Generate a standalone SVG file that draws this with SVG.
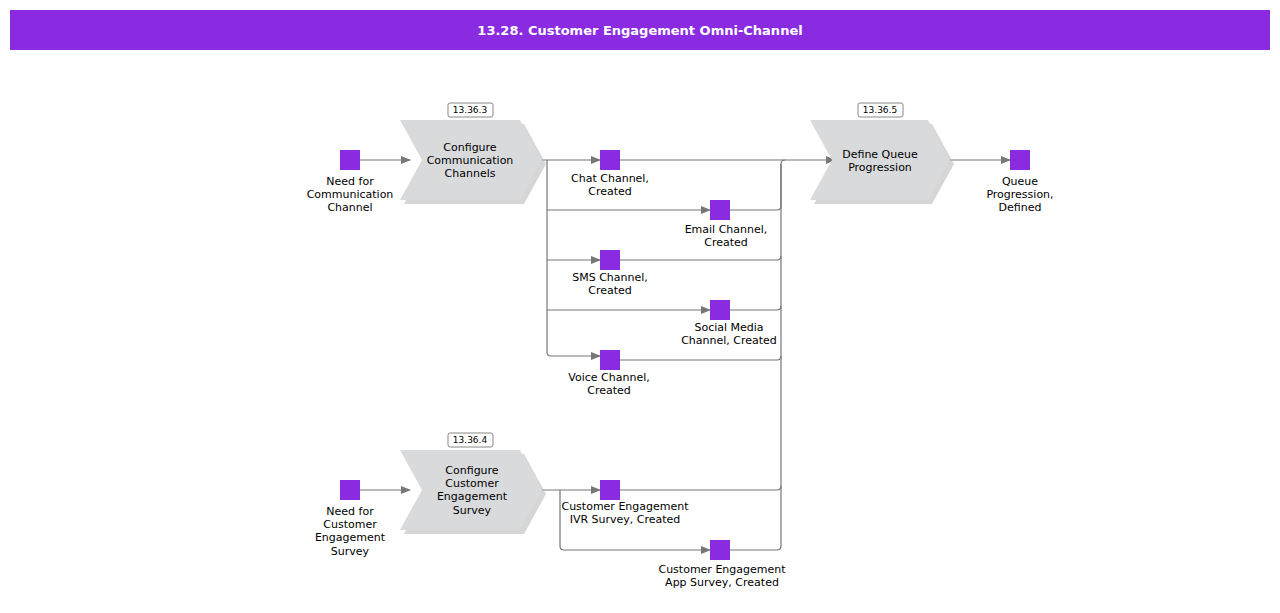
<svg xmlns="http://www.w3.org/2000/svg" width="1280" height="613" viewBox="0 0 1280 613">
<defs>
<style>
text{font-family:"DejaVu Sans",sans-serif;font-size:11px;fill:#000;text-anchor:middle}
.ev{fill:#8a2be2}
.sh{fill:#bbb;opacity:.6}
.ch{fill:#d9dadc}
.c{fill:none;stroke:#777;stroke-width:1.2}
.b{fill:#fff;stroke:#888;stroke-width:1}
.bt{font-size:9px}
</style>
<marker id="a" markerWidth="10" markerHeight="8" refX="9" refY="4" orient="auto" markerUnits="userSpaceOnUse"><path d="M0,0L10,4L0,8z" fill="#777"/></marker>
</defs>
<rect width="1280" height="613" fill="#fff"/>
<rect x="10" y="10" width="1260" height="40" fill="#8a2be2"/>
<text x="640" y="35" style="fill:#fff;font-weight:bold;font-size:13px">13.28. Customer Engagement Omni-Channel</text>
<g id="connectors">
<path class="c" d="M360,160H410" marker-end="url(#a)"/>
<path class="c" d="M542,160H600" marker-end="url(#a)"/>
<path class="c" d="M547,160V352q0,4 4,4H600" marker-end="url(#a)"/>
<path class="c" d="M547,210H710" marker-end="url(#a)"/>
<path class="c" d="M547,260H600" marker-end="url(#a)"/>
<path class="c" d="M547,310H710" marker-end="url(#a)"/>
<path class="c" d="M620,160H835" marker-end="url(#a)"/>
<path class="c" d="M730,210H777q4,0 4,-4V164q0,-4 4,-4"/>
<path class="c" d="M620,260H777q4,0 4,-4"/>
<path class="c" d="M730,310H777q4,0 4,-4"/>
<path class="c" d="M620,360H777q4,0 4,-4"/>
<path class="c" d="M620,490H777q4,0 4,-4"/>
<path class="c" d="M730,550H777q4,0 4,-4V164"/>
<path class="c" d="M360,490H410" marker-end="url(#a)"/>
<path class="c" d="M542,490H600" marker-end="url(#a)"/>
<path class="c" d="M560,490V546q0,4 4,4H710" marker-end="url(#a)"/>
<path class="c" d="M950,160H1010" marker-end="url(#a)"/>
</g>
<g id="p1">
<path class="sh" d="M404,124H524L546,164L524,204H404L426,164z"/>
<path class="ch" d="M400,120H520L542,160L520,200H400L422,160z"/>
<text x="470" y="151">Configure</text><text x="470" y="164">Communication</text><text x="470" y="177">Channels</text>
<rect class="b" x="448" y="103" width="45" height="14" rx="2"/><text class="bt" x="470" y="113">13.36.3</text>
</g>
<g id="p2">
<path class="sh" d="M814,124H932L954,164L932,204H814L836,164z"/>
<path class="ch" d="M810,120H928L950,160L928,200H810L832,160z"/>
<text x="880" y="158">Define Queue</text><text x="880" y="171">Progression</text>
<rect class="b" x="858" y="103" width="45" height="14" rx="2"/><text class="bt" x="880" y="113">13.36.5</text>
</g>
<g id="p3">
<path class="sh" d="M404,454H524L546,494L524,534H404L426,494z"/>
<path class="ch" d="M400,450H520L542,490L520,530H400L422,490z"/>
<text x="472" y="474">Configure</text><text x="472" y="487">Customer</text><text x="472" y="500">Engagement</text><text x="472" y="514">Survey</text>
<rect class="b" x="448" y="433" width="45" height="14" rx="2"/><text class="bt" x="470" y="443">13.36.4</text>
</g>
<g id="e1"><rect class="ev" x="340" y="150" width="20" height="20"/><text x="350" y="185">Need for</text><text x="350" y="198">Communication</text><text x="350" y="211">Channel</text></g>
<g id="e2"><rect class="ev" x="600" y="150" width="20" height="20"/><text x="610" y="182">Chat Channel,</text><text x="610" y="195">Created</text></g>
<g id="e3"><rect class="ev" x="710" y="200" width="20" height="20"/><text x="726" y="233">Email Channel,</text><text x="726" y="246">Created</text></g>
<g id="e4"><rect class="ev" x="600" y="250" width="20" height="20"/><text x="610" y="281">SMS Channel,</text><text x="610" y="294">Created</text></g>
<g id="e5"><rect class="ev" x="710" y="300" width="20" height="20"/><text x="729" y="331">Social Media</text><text x="729" y="344">Channel, Created</text></g>
<g id="e6"><rect class="ev" x="600" y="350" width="20" height="20"/><text x="609" y="381">Voice Channel,</text><text x="609" y="394">Created</text></g>
<g id="e7"><rect class="ev" x="1010" y="150" width="20" height="20"/><text x="1020" y="185">Queue</text><text x="1020" y="198">Progression,</text><text x="1020" y="211">Defined</text></g>
<g id="e8"><rect class="ev" x="340" y="480" width="20" height="20"/><text x="350" y="515">Need for</text><text x="350" y="528">Customer</text><text x="350" y="541">Engagement</text><text x="350" y="555">Survey</text></g>
<g id="e9"><rect class="ev" x="600" y="480" width="20" height="20"/><text x="625" y="510">Customer Engagement</text><text x="625" y="523">IVR Survey, Created</text></g>
<g id="e10"><rect class="ev" x="710" y="540" width="20" height="20"/><text x="722" y="573">Customer Engagement</text><text x="722" y="586">App Survey, Created</text></g>
</svg>
